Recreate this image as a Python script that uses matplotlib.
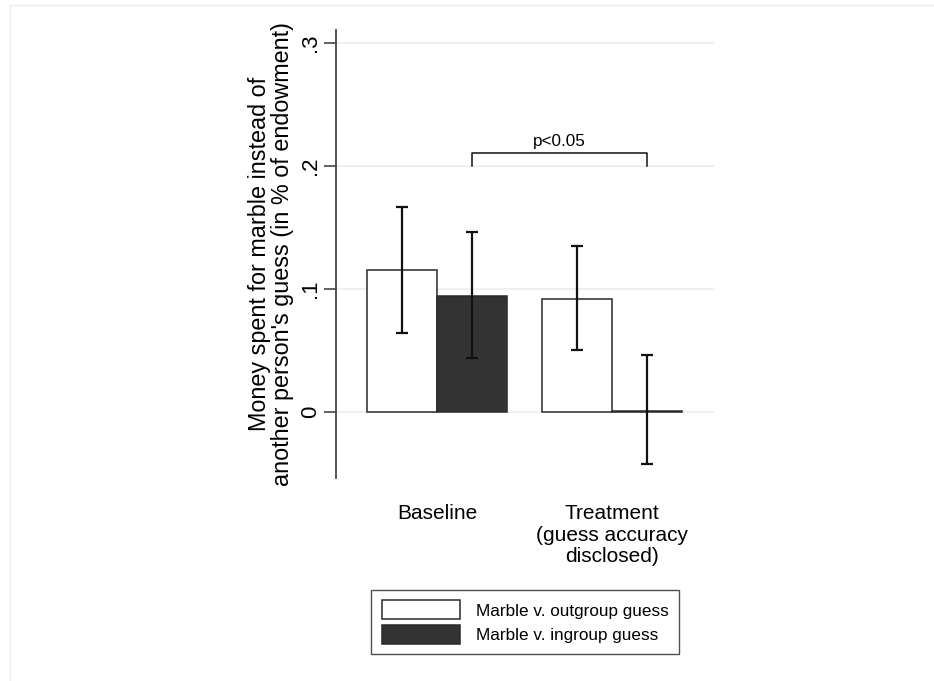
import matplotlib
matplotlib.use('Agg')

import matplotlib.pyplot as plt
from matplotlib.patches import Rectangle, Patch
import numpy as np

groups = ['Baseline', 'Treatment\n(guess accuracy\ndisclosed)']
series = ['Marble v. outgroup guess', 'Marble v. ingroup guess']
outgroup = [0.115, 0.092]
ingroup = [0.094, 0.001]
outgroup_lo = [0.064, 0.050]
outgroup_hi = [0.167, 0.135]
ingroup_lo = [0.044, -0.042]
ingroup_hi = [0.146, 0.046]
y_ticks = [0, 0.1, 0.2, 0.3]
y_tick_labels = ['0', '.1', '.2', '.3']
sig_label = 'p<0.05'

plt.rcParams['font.family'] = ['Liberation Sans', 'DejaVu Sans']

fig = plt.figure(figsize=(9.34, 6.81), dpi=100)
ax = fig.add_axes([0.3597, 0.2981, 0.4047, 0.658])

# faint outer frame like the source image
fig.patches.append(Rectangle((10 / 934, -0.01), 0.99, (681 - 5) / 681 + 0.01,
                             transform=fig.transFigure, fill=False,
                             edgecolor='#ececec', linewidth=1))

x = np.arange(len(groups))
w = 0.4
edge = '#2a2a2a'

ax.bar(x - w / 2, outgroup, w, color='white', edgecolor=edge, linewidth=1.1, zorder=2)
ax.bar(x + w / 2, ingroup, w, color='#333333', edgecolor=edge, linewidth=1.1, zorder=2)

for xs, lo, hi in [(x - w / 2, outgroup_lo, outgroup_hi), (x + w / 2, ingroup_lo, ingroup_hi)]:
    lo = np.array(lo)
    hi = np.array(hi)
    mid = (lo + hi) / 2
    ax.errorbar(xs, mid, yerr=(hi - lo) / 2, fmt='none', ecolor='#111111',
                elinewidth=1.6, capsize=4, capthick=1.6, zorder=3)

# significance bracket between the two ingroup bars
bx0 = x[0] + w / 2
bx1 = x[1] + w / 2
ax.plot([bx0, bx0, bx1, bx1], [0.2, 0.2104, 0.2104, 0.2], color='#111111', lw=1.1, zorder=3)
ax.text((bx0 + bx1) / 2, 0.2135, sig_label, ha='center', va='bottom', fontsize=12.3)

ax.set_xlim(-0.577, 1.583)
ax.set_ylim(-0.0537, 0.3106)
ax.set_yticks(y_ticks)
ax.set_yticklabels(y_tick_labels, rotation=90, va='center', fontsize=16)
ax.tick_params(axis='y', length=9, width=1.2, color='#444444', pad=2)
ax.set_xticks(x)
ax.set_xticklabels(groups, fontsize=15, va='top', linespacing=1.15)
ax.tick_params(axis='x', length=0, pad=19)

for t in y_ticks:
    ax.axhline(t, color='#e8eef2', lw=1.2, zorder=0)

for s in ['top', 'right', 'bottom']:
    ax.spines[s].set_visible(False)
ax.spines['left'].set_color('#444444')
ax.spines['left'].set_linewidth(1.3)

ax.set_ylabel("Money spent for marble instead of\nanother person's guess (in % of endowment)",
              fontsize=16.8, linespacing=1.0, labelpad=4)

handles = [Patch(facecolor='white', edgecolor=edge, linewidth=1.1),
           Patch(facecolor='#333333', edgecolor=edge, linewidth=1.1)]
leg = fig.legend(handles, series, loc='center', bbox_to_anchor=(525 / 934, 1 - 622 / 681),
                 fontsize=12.3, frameon=True, fancybox=False, edgecolor='#222222',
                 handlelength=4.6, handleheight=1.35, borderpad=0.6, labelspacing=0.3,
                 handletextpad=0.9)
leg.get_frame().set_linewidth(1.0)

plt.savefig('out.png', dpi=100)
